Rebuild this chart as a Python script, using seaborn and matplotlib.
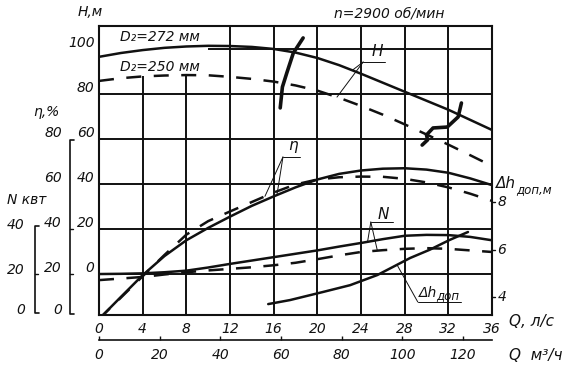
import matplotlib
matplotlib.use('Agg')
import matplotlib.pyplot as plt
import numpy as np
import seaborn as sns

# --- values --------------------------------------------------------------
q = [0, 2, 4, 6, 8, 10, 12, 14, 16, 18, 20, 22, 24, 26, 28, 30, 32, 34, 36]   # Q, л/с

h_272 = [96.5, 98.2, 99.5, 100.5, 101.1, 101.4, 101.3, 100.9, 100.0, 98.4,
         96.0, 92.8, 89.0, 85.0, 81.0, 77.0, 73.0, 68.5, 64.0]
h_250 = [85.8, 87.0, 87.8, 88.2, 88.4, 88.3, 87.6, 86.7, 85.5, 83.8,
         81.5, 78.3, 74.7, 70.8, 66.5, 62.0, 57.5, 52.8, 48.0]

eta_272 = [0, 9.8, 19.5, 28.0, 35.0, 40.5, 45.5, 50.3, 54.5, 58.5,
           62.0, 64.5, 66.0, 66.8, 67.0, 66.4, 65.0, 62.5, 59.5]
eta_250 = [0, 9.5, 19.0, 28.5, 37.5, 43.5, 47.8, 52.0, 56.2, 59.8,
           62.0, 63.0, 63.3, 63.2, 62.3, 60.7, 58.5, 55.7, 52.5]

n_272 = [20.0, 20.1, 20.3, 20.8, 21.5, 22.9, 24.5, 26.0, 27.5, 29.0,
         30.5, 32.2, 33.8, 35.5, 37.0, 37.4, 37.3, 36.5, 35.0]
n_250 = [17.3, 18.0, 18.7, 19.8, 20.8, 21.6, 22.3, 23.0, 23.9, 25.0,
         26.6, 28.3, 29.8, 30.6, 31.2, 31.5, 31.2, 30.5, 29.8]

dh_q = [15.5, 17.5, 20.5, 23.0, 25.5, 28.5, 30.3, 32.1, 33.8]
dh_m = [3.70, 3.87, 4.21, 4.50, 4.93, 5.65, 6.00, 6.41, 6.75]

# hand drawn break marks on the H curves
mark1_q = [18.7, 17.8, 17.2, 16.8, 16.6]
mark1_h = [104.9, 98.2, 89.3, 83.1, 73.8]
mark2_q = [33.2, 32.9, 31.9, 30.6, 30.0, 30.1, 29.6]
mark2_h = [76.0, 69.8, 65.3, 64.9, 61.8, 59.6, 57.3]

q_ticks = [0, 4, 8, 12, 16, 20, 24, 28, 32, 36]
qm_ticks = [0, 20, 40, 60, 80, 100, 120]
h_ticks = [0, 20, 40, 60, 80, 100]
eta_ticks = [0, 20, 40, 60, 80]
n_ticks = [0, 20, 40]
dh_ticks = [4, 6, 8]


# all scales are drawn on the H axis
def eta_to_h(v):
    return np.asarray(v, dtype=float) - 20


def n_to_h(v):
    return np.asarray(v, dtype=float) - 20


def dh_to_h(v):
    return -10.2 + (np.asarray(v, dtype=float) - 4) * 10.5


sns.set_style('white')
plt.rcParams['font.family'] = ['DejaVu Sans']
plt.rcParams['font.style'] = 'italic'
ink = '#111111'

fig = plt.figure(figsize=(5.71, 3.75), dpi=100)
ax = fig.add_axes([99 / 571, 1 - 315 / 375, 393 / 571, 289 / 375])
ax.set_xlim(0, 36)
ax.set_ylim(-18.2, 110.2)

# grid
ax.hlines([0, 20, 40, 60, 80], 0, 36, color=ink, lw=1.4)
ax.hlines([100], 10, 36, color=ink, lw=1.4)
ax.vlines([12, 16, 20, 24, 28, 32], -18.2, 110.2, color=ink, lw=1.4)
ax.vlines([4, 8], -18.2, 88, color=ink, lw=1.4)

dash = (0, (6, 5))
sns.lineplot(x=q, y=h_272, ax=ax, color=ink, lw=1.8)
sns.lineplot(x=q, y=h_250, ax=ax, color=ink, lw=1.8, linestyle=dash)
sns.lineplot(x=q, y=eta_to_h(eta_272), ax=ax, color=ink, lw=1.8)
sns.lineplot(x=q, y=eta_to_h(eta_250), ax=ax, color=ink, lw=1.8, linestyle=dash)
sns.lineplot(x=q, y=n_to_h(n_272), ax=ax, color=ink, lw=1.8)
sns.lineplot(x=q, y=n_to_h(n_250), ax=ax, color=ink, lw=1.8, linestyle=dash)
sns.lineplot(x=dh_q, y=dh_to_h(dh_m), ax=ax, color=ink, lw=1.8)

ax.plot(mark1_q, mark1_h, color=ink, lw=2.6, solid_capstyle='round')
ax.plot(mark2_q, mark2_h, color=ink, lw=2.6, solid_capstyle='round')

# frame
for s in ax.spines.values():
    s.set_visible(True)
    s.set_color(ink)
    s.set_linewidth(1.5)

ax.set_xticks(q_ticks)
ax.set_xticklabels([str(t) for t in q_ticks], fontsize=10)
ax.set_yticks([])
ax.tick_params(axis='x', length=0, pad=5, colors=ink)

sec = ax.secondary_xaxis(-0.0865, functions=(lambda x: x * 3.6, lambda x: x / 3.6))
sec.set_xticks(qm_ticks)
sec.set_xticklabels([str(t) for t in qm_ticks], fontsize=10)
sec.spines['bottom'].set_linewidth(1.2)
sec.spines['bottom'].set_color(ink)
sec.tick_params(axis='x', direction='in', length=3, width=1, pad=6, colors=ink)

ax.text(37.6, -21.3, 'Q, л/с', fontsize=11, ha='left', va='center', color=ink)
ax.text(37.6, -36.4, 'Q  м³/ч', fontsize=11, ha='left', va='center', color=ink)

# left scales
for t in h_ticks:
    ax.text(-0.4, t + 2.8, str(t), fontsize=10, ha='right', va='center', color=ink)
for t in eta_ticks:
    ax.text(-3.4, max(eta_to_h(t) + 2.6, -16), str(t), fontsize=10, ha='right', va='center', color=ink)
for t in n_ticks:
    ax.text(-6.8, max(n_to_h(t) + 2.0, -16), str(t), fontsize=10, ha='right', va='center', color=ink)

ax.plot([-2.3, -2.65, -2.65, -2.3], [59.6, 59.6, -17.8, -17.8], color=ink, lw=1.2, clip_on=False)
ax.plot([-5.5, -5.86, -5.86, -5.5], [21.3, 21.3, -17.3, -17.3], color=ink, lw=1.2, clip_on=False)
for t in [20, 40]:
    ax.plot([-2.65, -2.35], [eta_to_h(t), eta_to_h(t)], color=ink, lw=1.0, clip_on=False)
ax.plot([-5.86, -5.56], [n_to_h(20), n_to_h(20)], color=ink, lw=1.0, clip_on=False)

ax.text(-0.8, 116.4, 'H,м', fontsize=10, ha='center', va='center', color=ink)
ax.text(-4.85, 72, 'η,%', fontsize=10, ha='center', va='center', color=ink)
ax.text(-6.6, 32.9, 'N квт', fontsize=10, ha='center', va='center', color=ink)

# right scale
for t in dh_ticks:
    ax.plot([36, 36.3], [dh_to_h(t), dh_to_h(t)], color=ink, lw=1.0, clip_on=False)
    ax.text(36.5, dh_to_h(t), str(t), fontsize=10, ha='left', va='center', color=ink)
ax.text(36.35, 40.4, 'Δh', fontsize=11, ha='left', va='center', color=ink)
ax.text(38.2, 37.3, 'доп,м', fontsize=8.5, ha='left', va='center', color=ink)

# titles
ax.text(26.6, 115.6, 'n=2900 об/мин', fontsize=10, ha='center', va='center', color=ink)
ax.text(1.9, 105.3, 'D₂=272 мм', fontsize=10, ha='left', va='center', color=ink)
ax.text(1.9, 92.0, 'D₂=250 мм', fontsize=10, ha='left', va='center', color=ink)

# curve captions with leader lines
lw_lead = 0.7
ax.text(25.5, 98.7, 'H', fontsize=11, ha='center', va='center', color=ink)
ax.plot([24.2, 26.2], [94.2, 94.2], color=ink, lw=lw_lead)
ax.plot([24.2, 23.2], [94.2, np.interp(23.2, q, h_272)], color=ink, lw=lw_lead)
ax.plot([24.2, 21.8], [94.2, np.interp(21.8, q, h_250)], color=ink, lw=lw_lead)

ax.text(17.8, 56.9, 'η', fontsize=11, ha='center', va='center', color=ink)
ax.plot([16.85, 18.4], [52, 52], color=ink, lw=lw_lead)
ax.plot([16.85, 15.2], [52, eta_to_h(np.interp(15.2, q, eta_250))], color=ink, lw=lw_lead)
ax.plot([16.85, 16.3], [52, eta_to_h(np.interp(16.3, q, eta_272))], color=ink, lw=lw_lead)

ax.text(26.0, 26.4, 'N', fontsize=11, ha='center', va='center', color=ink)
ax.plot([24.9, 26.9], [23.1, 23.1], color=ink, lw=lw_lead)
ax.plot([24.9, 24.6], [23.1, n_to_h(np.interp(24.6, q, n_272))], color=ink, lw=lw_lead)
ax.plot([24.9, 25.5], [23.1, n_to_h(np.interp(25.5, q, n_250))], color=ink, lw=lw_lead)

ax.text(29.3, -8.6, 'Δh', fontsize=10, ha='left', va='center', color=ink)
ax.text(30.9, -9.6, 'доп', fontsize=8.5, ha='left', va='center', color=ink)
ax.plot([29.2, 33.2], [-12.4, -12.4], color=ink, lw=lw_lead)
ax.plot([29.2, 27.3], [-12.4, dh_to_h(np.interp(27.3, dh_q, dh_m))], color=ink, lw=lw_lead)

fig.savefig('out.png', dpi=100)
